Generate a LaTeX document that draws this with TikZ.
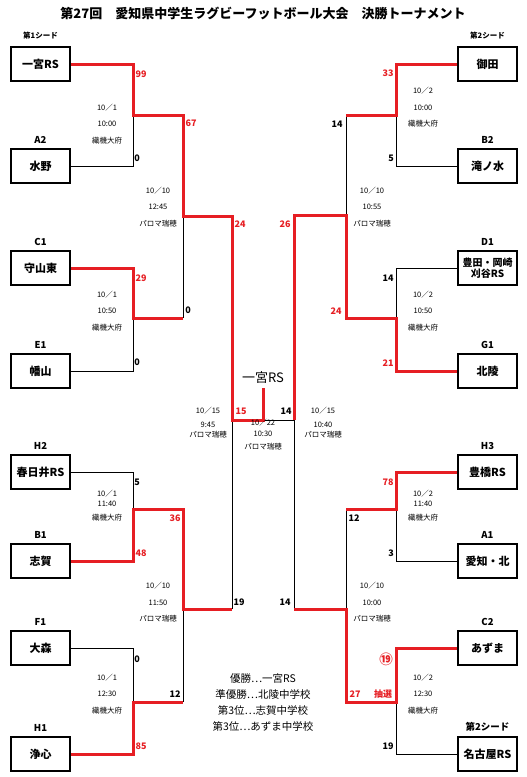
\documentclass[tikz,border=0pt]{standalone}
\usepackage{fontspec}
\setmainfont{Noto Sans CJK JP}
\usetikzlibrary{positioning}
\definecolor{winred}{RGB}{230,30,35}
\tikzset{
	team/.style={draw, line width=2.2pt, minimum width=58.8pt, minimum height=33.8pt, inner sep=1pt, font=\bfseries\fontsize{11}{13}\selectfont},
	seed/.style={inner sep=0pt, font=\bfseries\fontsize{9.5}{11}\selectfont},
	seedtop/.style={inner sep=0pt, font=\bfseries\fontsize{7.5}{9}\selectfont},
	score/.style={inner sep=0pt, font=\bfseries\fontsize{9}{10}\selectfont},
	wscore/.style={score, text=winred},
	info/.style={inner sep=0pt, align=center, font=\fontsize{7.5}{16.5}\selectfont},
	loseline/.style={line width=0.8pt},
	winline/.style={draw=winred, line width=3pt},
	title/.style={inner sep=0pt, font=\bfseries\fontsize{13}{15}\selectfont}}
\begin{document}
\begin{tikzpicture}[x=1pt, y=-1pt]
	\useasboundingbox (0,0) rectangle (527,777);
	
	%Title
	\node[title] (ttl) at (263,13) {第27回　愛知県中学生ラグビーフットボール大会　決勝トーナメント};
	
	%Left
	\node[team] (l1) at (40.5,64) {一宮RS};
	\node[team] (l2) at (40.5,166) {水野};
	\node[team] (l3) at (40.5,268) {守山東};
	\node[team] (l4) at (40.5,371) {幡山};
	\node[team] (l5) at (40.5,472) {春日井RS};
	\node[team] (l6) at (40.5,561) {志賀};
	\node[team] (l7) at (40.5,648) {大森};
	\node[team] (l8) at (40.5,754) {浄心};
	
	%Right
	\node[team] (r1) at (487.5,64) {御田};
	\node[team] (r2) at (487.5,166) {滝ノ水};
	\node[team, align=center, font=\bfseries\fontsize{10}{11.5}\selectfont] (r3) at (487.5,268) {豊田・岡崎\\刈谷RS};
	\node[team] (r4) at (487.5,371) {北陵};
	\node[team] (r5) at (487.5,472) {豊橋RS};
	\node[team] (r6) at (487.5,561) {愛知・北};
	\node[team] (r7) at (487.5,648) {あずま};
	\node[team] (r8) at (487.5,754) {名古屋RS};
	
	%Seeds
	\node[seedtop, above=7pt of l1] (sl1) {第1シード};
	\node[seed, above=4pt of l2] (sl2) {A2};
	\node[seed, above=4pt of l3] (sl3) {C1};
	\node[seed, above=4pt of l4] (sl4) {E1};
	\node[seed, above=4pt of l5] (sl5) {H2};
	\node[seed, above=4pt of l6] (sl6) {B1};
	\node[seed, above=4pt of l7] (sl7) {F1};
	\node[seed, above=4pt of l8] (sl8) {H1};
	\node[seedtop, above=7pt of r1] (sr1) {第2シード};
	\node[seed, above=4pt of r2] (sr2) {B2};
	\node[seed, above=4pt of r3] (sr3) {D1};
	\node[seed, above=4pt of r4] (sr4) {G1};
	\node[seed, above=4pt of r5] (sr5) {H3};
	\node[seed, above=4pt of r6] (sr6) {A1};
	\node[seed, above=4pt of r7] (sr7) {C2};
	\node[seed, above=4pt of r8] (sr8) {第2シード};
	
	%Junctions
	\coordinate (a1) at (133,115);
	\coordinate (a2) at (133,318);
	\coordinate (a3) at (133,509);
	\coordinate (a4) at (133,702);
	\coordinate (b1) at (183,216);
	\coordinate (b2) at (183,609);
	\coordinate (c1) at (232,420);
	\coordinate (d1) at (396,115);
	\coordinate (d2) at (396,318);
	\coordinate (d3) at (396,509);
	\coordinate (d4) at (396,702);
	\coordinate (e1) at (346,215);
	\coordinate (e2) at (346,609);
	\coordinate (c2) at (294,420);
	\coordinate (f) at (263,420);
	\coordinate (champ) at (263,388);
	
	\draw[loseline]
	(l2.east) -| (a1)
	(l4.east) -| (a2)
	(a2 -| b1) -- (b1)
	(l5.east) -| (a3)
	(l7.east) -| (a4)
	(a4 -| b2) -- (b2)
	(b2 -| c1) -- (c1)
	
	(r2.west) -| (d1)
	(d1 -| e1) -- (e1)
	(r3.west) -| (d2)
	(r6.west) -| (d3)
	(d3 -| e2) -- (e2)
	(r8.west) -| (d4)
	(e2 -| c2) -- (c2)
	(c2) -- (f)
	;
	
	\draw[winline]
	(l1.east) -| (a1) -| (b1) -| (c1) -| (champ)
	(l3.east) -| (a2) -- (a2 -| b1)
	(l6.east) -| (a3) -| (b2) -- (b2 -| c1)
	(l8.east) -| (a4) -- (a4 -| b2)
	
	(r1.west) -| (d1) -- (d1 -| e1)
	(r4.west) -| (d2) -| (e1) -| (c2)
	(r5.west) -| (d3) -- (d3 -| e2)
	(r7.west) -| (d4) -| (e2) -- (e2 -| c2)
	;
	
	%Scores left
	\node[wscore] (p1) at (141,74) {99};
	\node[score] (p2) at (137,158) {0};
	\node[wscore] (p3) at (191,123) {67};
	\node[wscore] (p4) at (141,278) {29};
	\node[score] (p5) at (188,310) {0};
	\node[score] (p6) at (137,362) {0};
	\node[wscore] (p7) at (240,224) {24};
	\node[score] (p8) at (137,482) {5};
	\node[wscore] (p9) at (175,518) {36};
	\node[wscore] (p10) at (141,553) {48};
	\node[score] (p11) at (239,602) {19};
	\node[score] (p12) at (137,659) {0};
	\node[score] (p13) at (175,694) {12};
	\node[wscore] (p14) at (141,746) {85};
	\node[wscore] (p15) at (241,411) {15};
	
	%Scores right
	\node[wscore] (q1) at (388,73) {33};
	\node[score] (q2) at (337,124) {14};
	\node[score] (q3) at (391,158) {5};
	\node[wscore] (q4) at (285,224) {26};
	\node[score] (q5) at (388,278) {14};
	\node[wscore] (q6) at (336,311) {24};
	\node[wscore] (q7) at (388,363) {21};
	\node[wscore] (q8) at (388,482) {78};
	\node[score] (q9) at (354,518) {12};
	\node[score] (q10) at (391,553) {3};
	\node[score] (q11) at (285,602) {14};
	\node[wscore, font=\bfseries\fontsize{13.5}{14}\selectfont] (q12) at (386,659) {⑲};
	\node[wscore] (q13) at (355,694) {27};
	\node[wscore] (q14) at (383,694) {抽選};
	\node[score] (q15) at (388,746) {19};
	\node[score] (q16) at (286,411) {14};
	
	%Dates left
	\node[info] (i1) at (107,124) {10／1\\10:00\\織機大府};
	\node[info] (i2) at (107,311) {10／1\\10:50\\織機大府};
	\node[info, font=\fontsize{7.5}{10}\selectfont] (i3) at (107,505.5) {10／1\\11:40\\[4pt]織機大府};
	\node[info] (i4) at (107,694) {10／1\\12:30\\織機大府};
	\node[info] (i5) at (158,207) {10／10\\12:45\\パロマ瑞穂};
	\node[info] (i6) at (158,602.5) {10／10\\11:50\\パロマ瑞穂};
	\node[info, font=\fontsize{7.5}{9.5}\selectfont] (i7) at (208,422.5) {10／15\\[4.5pt]9:45\\パロマ瑞穂};
	
	%Dates right
	\node[info] (j1) at (423,107.5) {10／2\\10:00\\織機大府};
	\node[info] (j2) at (423,311) {10／2\\10:50\\織機大府};
	\node[info, font=\fontsize{7.5}{10}\selectfont] (j3) at (423,505.5) {10／2\\11:40\\[4pt]織機大府};
	\node[info] (j4) at (423,694) {10／2\\12:30\\織機大府};
	\node[info] (j5) at (372,207) {10／10\\10:55\\パロマ瑞穂};
	\node[info] (j6) at (372,602.5) {10／10\\10:00\\パロマ瑞穂};
	\node[info, font=\fontsize{7.5}{9.5}\selectfont] (j7) at (323,422.5) {10／15\\[4.5pt]10:40\\パロマ瑞穂};
	
	%Final
	\node[info, font=\fontsize{7.5}{11}\selectfont] (fin) at (263,435) {10／22\\10:30\\[2pt]パロマ瑞穂};
	\node[inner sep=0pt, font=\fontsize{13}{15}\selectfont] (win) at (263,378) {一宮RS};
	\node[inner sep=0pt, align=center, font=\fontsize{10.5}{16.3}\selectfont] (res) at (263,702.5) {優勝…一宮RS\\準優勝…北陵中学校\\第3位…志賀中学校\\第3位…あずま中学校};
\end{tikzpicture}
\end{document}
